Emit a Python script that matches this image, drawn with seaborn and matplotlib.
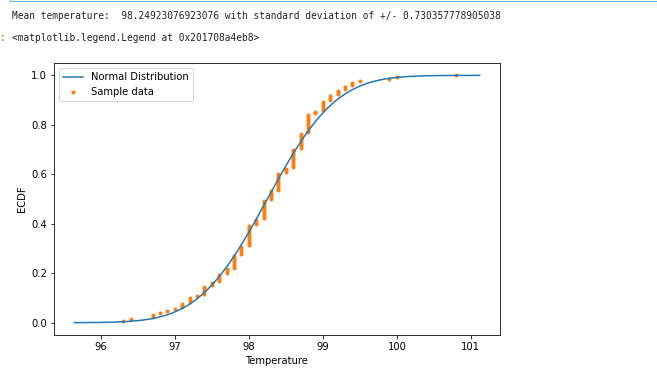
import math
import numpy as np
import seaborn as sns
from matplotlib import pyplot as plt
from matplotlib.lines import Line2D

# body temperature readings (deg F) and how often each one occurs
temps = [96.3, 96.4, 96.7, 96.8, 96.9, 97.0, 97.1, 97.2, 97.3, 97.4, 97.5,
         97.6, 97.7, 97.8, 97.9, 98.0, 98.1, 98.2, 98.3, 98.4, 98.5, 98.6,
         98.7, 98.8, 98.9, 99.0, 99.1, 99.2, 99.3, 99.4, 99.5, 99.9, 100.0,
         100.8]
counts = [1, 1, 2, 1, 1, 1, 3, 3, 1, 5, 2,
          4, 3, 7, 5, 11, 3, 10, 5, 9, 3, 10,
          8, 10, 2, 5, 3, 3, 2, 2, 1, 1, 1,
          1]

# printed summary, as shown in the notebook output
mean_text = '98.24923076923076'
std_text = '0.730357778905038'

# range covered by the normal curve
curve_lo, curve_hi = 95.64, 101.12

sample = np.repeat(temps, counts)
mean = np.mean(sample)
std = np.std(sample)

x_ecdf = np.sort(sample)
y_ecdf = np.arange(1, len(x_ecdf) + 1) / len(x_ecdf)

x_norm = np.linspace(curve_lo, curve_hi, 300)
y_norm = np.array([0.5 * (1 + math.erf((v - mean) / (std * math.sqrt(2)))) for v in x_norm])

W, H = 657, 368
fig = plt.figure(figsize=(W / 72, H / 72), dpi=72)
ax = fig.add_axes([54 / W, 33 / H, 446 / W, 272 / H])

sns.lineplot(x=x_norm, y=y_norm, ax=ax, color='C0', linewidth=1.5,
             label='Normal Distribution', sort=False, estimator=None)
sns.scatterplot(x=x_ecdf, y=y_ecdf, ax=ax, color='C1', marker='.', s=36,
                edgecolor='C1', linewidth=1, label='Sample data')

ax.set_xlabel('Temperature')
ax.set_ylabel('ECDF')
ax.legend(loc='upper left')

# notebook output text above the figure
mono = 'DejaVu Sans Mono'
fig.text(12 / W, 1 - 16 / H,
         'Mean temperature:  ' + mean_text + ' with standard deviation of +/- ' + std_text,
         family=mono, size=9.5, va='center', color='#222222')
fig.text(12 / W, 1 - 38 / H, '<matplotlib.legend.Legend at 0x201708a4eb8>',
         family=mono, size=9.5, va='center', color='#222222')
fig.text(0, 1 - 38 / H, ':', family=mono, size=9.5, va='center', color='#d84315')
fig.add_artist(Line2D([10 / W, 1], [1 - 1 / H, 1 - 1 / H], color='#64b5f6', linewidth=1))
fig.add_artist(Line2D([10 / W, 10 / W], [1 - 1 / H, 1], color='#64b5f6', linewidth=1))

fig.savefig('out.png', dpi=72)
